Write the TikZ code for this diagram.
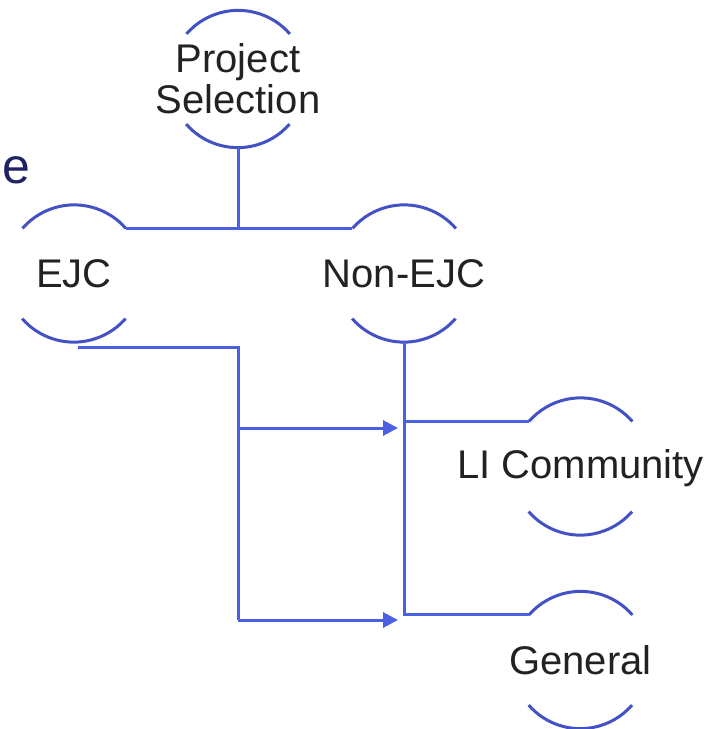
\documentclass[tikz,border=0pt]{standalone}
\usepackage{fontspec}
\setmainfont{Liberation Sans}
\usetikzlibrary{arrows.meta}
\definecolor{arccol}{RGB}{66,82,196}
\definecolor{linecol}{RGB}{74,96,224}
\definecolor{txtcol}{RGB}{34,34,34}
\definecolor{navy}{RGB}{32,34,100}
\tikzset{
  ring/.style={circle,draw=none,minimum size=137pt,inner sep=0pt},
  txt/.style={align=center,text=txtcol,font=\fontsize{40}{41}\selectfont,inner sep=0pt},
  arcline/.style={draw=arccol,line width=3pt},
  conn/.style={draw=linecol,line width=3pt},
  arrowconn/.style={conn,-{Triangle[length=15pt,width=15pt]}},
}
\begin{document}
\begin{tikzpicture}[x=1pt,y=1pt]
\useasboundingbox (0,0) rectangle (717,-729);
% ring nodes
\node[ring] (ps)  at (238,-79) {};
\node[ring] (ejc) at (74,-273.5) {};
\node[ring] (non) at (404,-273.5) {};
\node[ring] (li)  at (580.5,-466.5) {};
\node[ring] (gen) at (580.5,-660) {};
% texts
\node[txt] (pst) at (ps) {Project\\Selection};
\node[txt] (ejct) at (ejc) {EJC};
\node[txt] (nont) at (non) {Non-EJC};
\node[txt] (lit) at ([yshift=-2pt]li.center) {LI Community};
\node[txt] (gent) at (gen) {General};
\node[anchor=base west,inner sep=0pt,text=navy,font=\fontsize{50}{50}\selectfont] (frag) at (2,-183) {e};
% arcs
\foreach \n in {ps,ejc,non,li,gen}{
  \draw[arcline] (\n.41) arc[start angle=41,end angle=139,radius=68.5pt];
  \draw[arcline] (\n.221) arc[start angle=221,end angle=319,radius=68.5pt];
}
% connectors
\draw[conn] (ps.south) -- (ps.south |- ejc.41);
\draw[conn] (ejc.41) -- (non.139);
\draw[conn] ([shift={(4pt,-5pt)}]ejc.south) -| (238,-620) coordinate (busbot);
\coordinate (tipli) at (398,-428);
\coordinate (tipgen) at (398,-620);
\draw[arrowconn] (238,-428) -- (tipli);
\draw[arrowconn] (busbot) -- (tipgen);
\draw[conn] (non.south) |- (gen.139);
\draw[conn] (non.south |- li.139) -- (li.139);
\end{tikzpicture}
\end{document}
